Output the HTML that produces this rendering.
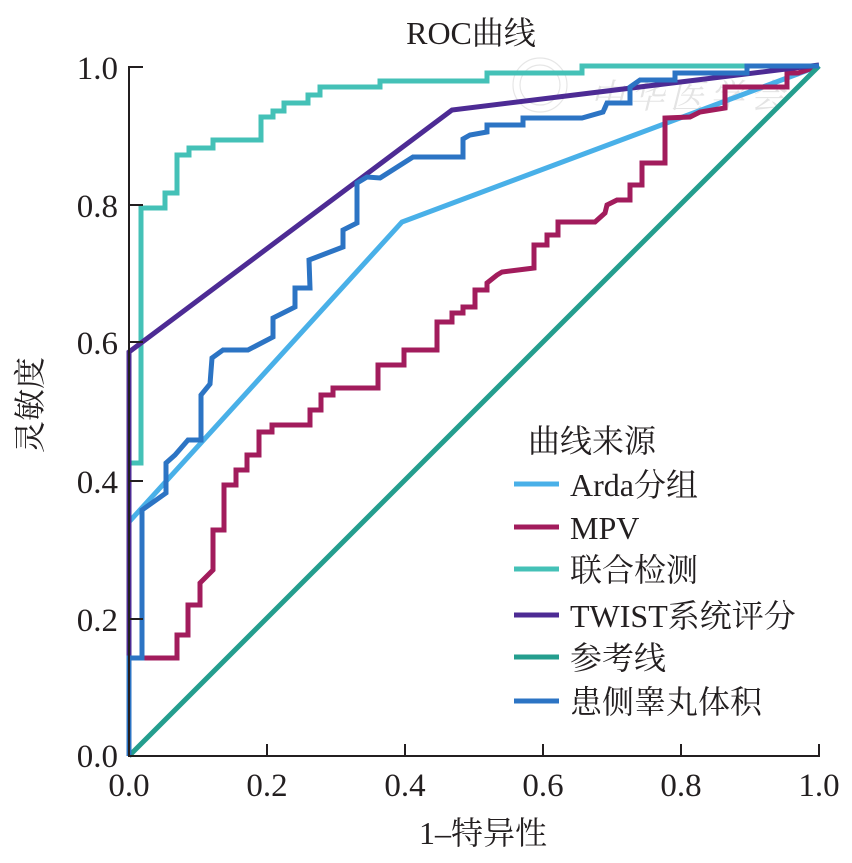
<!DOCTYPE html>
<html><head><meta charset="utf-8">
<style>
html,body{margin:0;padding:0;background:#fff;}
svg{display:block;}
text{font-family:"Liberation Serif","Noto Serif CJK SC",serif;fill:#231f20;}
</style></head>
<body>
<svg width="852" height="863" viewBox="0 0 852 863" xmlns="http://www.w3.org/2000/svg">
<!-- watermark -->
<g opacity="0.5" fill="none" stroke="#cfcfcf" stroke-width="1.2">
<circle cx="540" cy="85" r="27"/>
<circle cx="540" cy="85" r="20"/>
</g>
<text x="690" y="108" font-size="34" text-anchor="middle" style="fill:#e4e4e4;font-style:italic" letter-spacing="6">中华医学会</text>

<!-- title -->
<text x="471" y="44" font-size="32" text-anchor="middle">ROC曲线</text>

<g fill="none" stroke-width="5" stroke-linejoin="miter">
<!-- Arda -->
<polyline stroke="#49b0e8" points="129,522 402,222 819,66"/>
<!-- MPV -->
<polyline stroke="#a21c5c" points="129,756 129,658 177,658 177,635 188,635 188,605 200,605 200,583 213,570 213,530 224,530 224,485 236,485 236,470 247,470 247,455 259,455 259,432 272,432 272,425 310,425 310,410 321,410 321,395 333,395 333,388 378,388 378,365 404,365 404,350 437,350 437,322 452,322 452,313 463,313 463,307 475,307 475,290 487,290 487,283 497,275 502,272 534,268 534,245 547,245 547,235 558,235 558,222 595,222 605,213 607,205 617,200 630,200 630,185 642,185 642,163 665,163 665,118 690,117 700,112 725,108 725,87 787,87 787,73 798,73 819,66"/>
<!-- 联合检测 -->
<polyline stroke="#44c1b7" points="129,756 129,463 141,463 141,208 165,208 165,193 177,193 177,155 189,155 189,148 213,148 213,140 261,140 261,117 273,117 273,111 284,111 284,103 308,103 308,95 320,95 320,87 380,87 380,81 487,81 487,73 582,73 582,66 819,66"/>
<!-- TWIST -->
<polyline stroke="#4d2b94" points="129,756 129,352 452,110 819,65"/>
<!-- 参考线 -->
<polyline stroke="#249e8e" points="129,756 819,66"/>
<!-- 患侧睾丸体积 -->
<polyline stroke="#2c74c4" points="129,756 129,658 142,658 142,510 166,493 166,463 175,455 188,440 201,440 201,395 210,384 212,358 223,350 248,350 273,337 273,318 295,307 295,288 310,288 309,260 343,247 343,230 357,223 357,183 367,177 380,178 413,157 463,157 463,139 470,135 487,132 487,125 523,125 523,118 582,118 603,112 607,103 630,103 630,87 640,80 675,80 675,73 747,73 747,66 819,66"/>
</g>

<!-- axes -->
<g stroke="#231f20" stroke-width="2" fill="none">
<line x1="129" y1="66" x2="129" y2="757"/>
<line x1="128" y1="756" x2="820" y2="756"/>
<!-- y ticks -->
<line x1="129" y1="67" x2="143" y2="67"/>
<line x1="129" y1="205" x2="143" y2="205"/>
<line x1="129" y1="342" x2="143" y2="342"/>
<line x1="129" y1="481" x2="143" y2="481"/>
<line x1="129" y1="619" x2="143" y2="619"/>
<!-- x ticks -->
<line x1="267" y1="756" x2="267" y2="744"/>
<line x1="405" y1="756" x2="405" y2="744"/>
<line x1="543" y1="756" x2="543" y2="744"/>
<line x1="681" y1="756" x2="681" y2="744"/>
<line x1="819" y1="757" x2="819" y2="744"/>
</g>

<!-- y tick labels -->
<g font-size="33" text-anchor="end">
<text x="118" y="79">1.0</text>
<text x="118" y="217">0.8</text>
<text x="118" y="354">0.6</text>
<text x="118" y="493">0.4</text>
<text x="118" y="631">0.2</text>
<text x="118" y="767">0.0</text>
</g>
<!-- x tick labels -->
<g font-size="33" text-anchor="middle">
<text x="129" y="796">0.0</text>
<text x="267" y="796">0.2</text>
<text x="405" y="796">0.4</text>
<text x="543" y="796">0.6</text>
<text x="681" y="796">0.8</text>
<text x="819" y="796">1.0</text>
</g>

<!-- axis titles -->
<text x="483" y="844" font-size="32" text-anchor="middle">1–特异性</text>
<text transform="translate(41,405) rotate(-90)" font-size="32" text-anchor="middle">灵敏度</text>

<!-- legend -->
<text x="528" y="452" font-size="32">曲线来源</text>
<g stroke-width="5">
<line x1="514" y1="484" x2="559" y2="484" stroke="#49b0e8"/>
<line x1="514" y1="527" x2="559" y2="527" stroke="#a21c5c"/>
<line x1="514" y1="569" x2="559" y2="569" stroke="#44c1b7"/>
<line x1="514" y1="615" x2="559" y2="615" stroke="#4d2b94"/>
<line x1="514" y1="657" x2="559" y2="657" stroke="#249e8e"/>
<line x1="514" y1="701" x2="559" y2="701" stroke="#2c74c4"/>
</g>
<g font-size="32">
<text x="570" y="496">Arda分组</text>
<text x="570" y="539">MPV</text>
<text x="570" y="581">联合检测</text>
<text x="570" y="627">TWIST系统评分</text>
<text x="570" y="669">参考线</text>
<text x="570" y="713">患侧睾丸体积</text>
</g>
</svg>
</body></html>
